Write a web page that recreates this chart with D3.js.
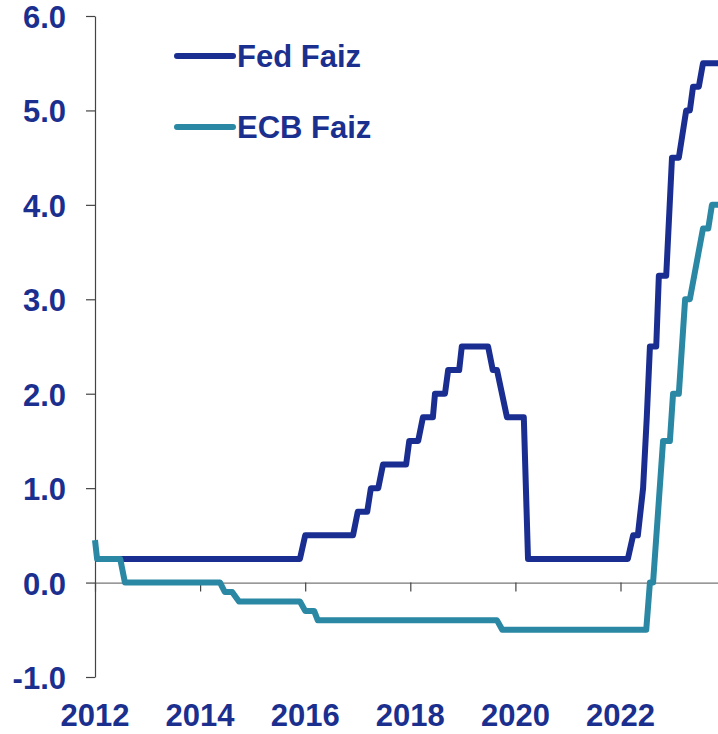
<!DOCTYPE html>
<html>
<head>
<meta charset="utf-8">
<script src="https://cdn.jsdelivr.net/npm/d3@7"></script>
<style>
  body { margin: 0; background: #fff; }
  svg { display: block; font-family: "Liberation Sans", Arial, sans-serif; }
</style>
</head>
<body>
<svg></svg>
<script>
// Fed rate breakpoints (decimal year, %)
const fedYears  = [2012.0, 2015.90, 2016.00, 2016.91, 2017.00, 2017.18, 2017.25, 2017.39, 2017.48, 2017.92, 2017.98,
                   2018.15, 2018.24, 2018.43, 2018.47, 2018.66, 2018.72, 2018.93, 2018.98, 2019.48, 2019.57, 2019.65,
                   2019.84, 2020.16, 2020.24, 2022.14, 2022.24, 2022.33, 2022.43, 2022.50, 2022.56, 2022.68, 2022.73,
                   2022.87, 2022.98, 2023.11, 2023.25, 2023.32, 2023.38, 2023.49, 2023.57, 2023.95];
const fedValues = [0.25, 0.25, 0.5, 0.5, 0.75, 0.75, 1.0, 1.0, 1.25, 1.25, 1.5,
                   1.5, 1.75, 1.75, 2.0, 2.0, 2.25, 2.25, 2.5, 2.5, 2.25, 2.25,
                   1.75, 1.75, 0.25, 0.25, 0.5, 0.5, 1.0, 1.75, 2.5, 2.5, 3.25,
                   3.25, 4.5, 4.5, 5.0, 5.0, 5.25, 5.25, 5.5, 5.5];

// ECB rate breakpoints (decimal year, %)
const ecbYears  = [2012.0, 2012.04, 2012.48, 2012.57, 2014.38, 2014.47, 2014.61, 2014.74, 2015.90, 2016.00, 2016.17,
                   2016.24, 2019.65, 2019.75, 2022.49, 2022.56, 2022.62, 2022.81, 2022.94, 2023.00, 2023.11, 2023.23,
                   2023.32, 2023.57, 2023.67, 2023.74, 2023.95];
const ecbValues = [0.45, 0.25, 0.25, 0.0, 0.0, -0.1, -0.1, -0.2, -0.2, -0.3, -0.3,
                   -0.4, -0.4, -0.5, -0.5, 0.0, 0.0, 1.5, 1.5, 2.0, 2.0, 3.0,
                   3.0, 3.75, 3.75, 4.0, 4.0];

const yTicks = [-1, 0, 1, 2, 3, 4, 5, 6];
const xTicks = [2012, 2014, 2016, 2018, 2020, 2022];

const seriesNames = ["Fed Faiz", "ECB Faiz"];
const colors = ["#1a2e92", "#2a88a4"];
const textColor = "#1b2f8f";

const series = [
    fedYears.map((t, i) => ({ t: t, v: fedValues[i] })),
    ecbYears.map((t, i) => ({ t: t, v: ecbValues[i] }))
];

const width = 718, height = 734;
const svg = d3.select("svg")
    .attr("width", width)
    .attr("height", height);

// Scales
const x = d3.scaleLinear()
    .domain([2012, 2024])
    .range([95, 95 + 12 * 52.55]);

const y = d3.scaleLinear()
    .domain([-1, 6])
    .range([677, 16]);

// Y axis (plain hyphen for negatives, like the original)
const yAxis = svg.append("g")
    .attr("transform", `translate(${x(2012)},0)`)
    .call(d3.axisLeft(y).tickValues(yTicks).tickFormat(d => d.toFixed(1)).tickSize(9).tickSizeOuter(0).tickPadding(20));
yAxis.select(".domain").attr("stroke", "#444").attr("stroke-width", 1.2);
yAxis.selectAll(".tick line").attr("stroke", "#444").attr("stroke-width", 1.2);
yAxis.selectAll(".tick text")
    .attr("fill", textColor)
    .attr("dy", "0.37em")
    .style("font-size", "31px")
    .style("font-weight", "bold");

// X axis at zero
const xAxis = svg.append("g")
    .attr("transform", `translate(0,${y(0)})`)
    .call(d3.axisBottom(x).tickValues(xTicks).tickFormat("").tickSize(9).tickSizeOuter(0));
xAxis.select(".domain").attr("stroke", "#777").attr("stroke-width", 1.2);
xAxis.selectAll(".tick line").attr("stroke", "#444").attr("stroke-width", 1.2);

// X labels at the bottom
svg.selectAll(".xlabel")
    .data(xTicks)
    .enter()
    .append("text")
    .attr("class", "xlabel")
    .attr("x", d => x(d))
    .attr("y", 726)
    .attr("text-anchor", "middle")
    .attr("fill", textColor)
    .style("font-size", "31px")
    .style("font-weight", "bold")
    .text(d => d);

// Lines
const line = d3.line()
    .x(d => x(d.t))
    .y(d => y(d.v));

svg.selectAll(".series")
    .data(series)
    .enter()
    .append("path")
    .attr("class", "series")
    .attr("d", line)
    .attr("fill", "none")
    .attr("stroke", (d, i) => colors[i])
    .attr("stroke-width", 6)
    .attr("stroke-linejoin", "round");

// Legend
const legend = svg.selectAll(".legend")
    .data(seriesNames)
    .enter()
    .append("g")
    .attr("class", "legend")
    .attr("transform", (d, i) => `translate(177,${56 + i * 71})`);

legend.append("line")
    .attr("x1", 0).attr("x2", 56)
    .attr("y1", 0).attr("y2", 0)
    .attr("stroke", (d, i) => colors[i])
    .attr("stroke-width", 6)
    .attr("stroke-linecap", "round");

legend.append("text")
    .attr("x", 60)
    .attr("y", 11)
    .attr("fill", textColor)
    .style("font-size", "31px")
    .style("font-weight", "bold")
    .text(d => d);
</script>
</body>
</html>
